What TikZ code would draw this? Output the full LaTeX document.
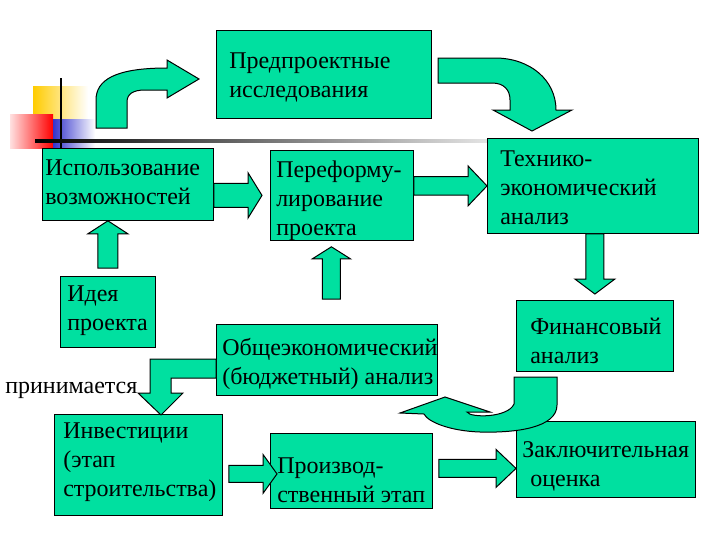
\documentclass[tikz,border=0pt]{standalone}
\usepackage{fontspec}
\setmainfont{Liberation Serif}
\usepackage{xcolor}
\usepackage{tikz}
\usetikzlibrary{calc}

\definecolor{sea}{RGB}{0,224,160}
\definecolor{corn}{RGB}{255,204,0}
\definecolor{ink}{RGB}{51,51,204}

\begin{document}
\begin{tikzpicture}[x=0.75pt,y=-0.75pt,
  stage/.style={draw=black, fill=sea, line width=0.6pt, anchor=north west, inner sep=0pt},
  stagetext/.style={anchor=west, inner sep=0pt, align=left, font=\fontsize{18}{21.75}\selectfont},
  arrowbody/.style={draw=black, fill=sea, line width=0.75pt, line join=miter},
  barrow/.style n args={3}{arrowbody,
    to path={let \p1=(\tikztostart), \p2=(\tikztotarget),
      \n1={atan2(\y2-\y1,\x2-\x1)}, \n2={veclen(\x2-\x1,\y2-\y1)-#3} in
      ($(\p1)+(\n1+90:#1)$) -- ($(\p1)+(\n1:\n2)+(\n1+90:#1)$) -- ($(\p1)+(\n1:\n2)+(\n1+90:#2)$)
      -- (\p2) -- ($(\p1)+(\n1:\n2)+(\n1-90:#2)$) -- ($(\p1)+(\n1:\n2)+(\n1-90:#1)$)
      -- ($(\p1)+(\n1-90:#1)$) -- cycle}}]
\useasboundingbox (0,0) rectangle (720,540);

%Shape: Corner Squares
\shade[left color=corn, middle color=corn!85, right color=white] (33,86) rectangle (88,119);
\shade[left color=red!12, right color=red] (10,114) rectangle (53,148);
\shade[left color=ink, middle color=ink!55, right color=white] (53,119) rectangle (95,148);
%Straight Lines
\draw[line width=1.8pt] (61,78) -- (61,150);
\shade[left color=black, right color=gray!20] (35,139.5) rectangle (490,142.5);

%Shape: Rectangle
\node[stage, minimum width=161.25pt, minimum height=66pt] (pre) at (216,30) {};
\node[stage, minimum width=128.25pt, minimum height=54pt] (use) at (42,148) {};
\node[stage, minimum width=107.25pt, minimum height=67.5pt] (reform) at (270,150) {};
\node[stage, minimum width=158.25pt, minimum height=71.25pt] (tech) at (487,138) {};
\node[stage, minimum width=71.25pt, minimum height=53.25pt] (idea) at (60,276) {};
\node[stage, minimum width=165.75pt, minimum height=53.25pt] (obsh) at (216,324) {};
\node[stage, minimum width=117.75pt, minimum height=53.25pt] (fin) at (516,300) {};
\node[stage, minimum width=126pt, minimum height=75.75pt] (inv) at (54,414) {};
\node[stage, minimum width=121.5pt, minimum height=56.25pt] (prod) at (270,433) {};
\node[stage, minimum width=134.25pt, minimum height=57pt] (final) at (516,421) {};

%Shape: Curved Right Arrow
\draw[arrowbody] (96,128) -- (96,100) .. controls (96,80) and (115,68) .. (167,68) -- (167,60) -- (199,79) -- (167,98) -- (167,90) -- (145,90) .. controls (133,90) and (127,94) .. (127,102) -- (127,128) -- cycle;
%Shape: Curved Down Arrow
\draw[arrowbody] (438,58) -- (495,58) .. controls (530,58) and (556,80) .. (556,110) -- (572,110) -- (532,131) -- (493,110) -- (510,110) -- (510,100) .. controls (510,90) and (504,83) .. (492,83) -- (438,83) -- cycle;
%Shape: U-Turn Arrow
\draw[arrowbody] (514,377) -- (557,377) -- (557,405) .. controls (557,428) and (515,433) .. (480,432) .. controls (450,431) and (428,422) .. (424,414) -- (400,413) -- (445,397) -- (490,412) -- (467,412) .. controls (470,418) and (508,418) .. (514,404) -- cycle;
%Shape: Bent Arrow
\draw[arrowbody] (216,359) -- (150,359) -- (150,393) -- (138,393) -- (161,415) -- (183,393) -- (171,393) -- (171,378) -- (216,378) -- cycle;

%Straight Arrows
\coordinate (c1) at (use.east |- reform.west);
\coordinate (c2) at ($(reform.west)+(-8,0)$);
\draw[barrow={9pt}{17pt}{10.5pt}] (c1) to (c2);
\coordinate (d1) at ($(idea.north)+(0,-8)$);
\coordinate (d2) at (idea.north |- use.south);
\draw[barrow={7.5pt}{15pt}{9.75pt}] (d1) to (d2);
\coordinate (e1) at (reform.east |- tech.west);
\draw[barrow={7pt}{15pt}{14.25pt}] (e1) to (tech.west);
\coordinate (f1) at ($(obsh.north)+(4.5,-25)$);
\coordinate (f2) at ($(f1 |- reform.south)+(0,6)$);
\draw[barrow={6.75pt}{14.25pt}{9pt}] (f1) to (f2);
\coordinate (g1) at (fin.north |- tech.south);
\coordinate (g2) at ($(fin.north)+(0,-6)$);
\draw[barrow={6.75pt}{15pt}{11.25pt}] (g1) to (g2);
\coordinate (j1) at ($(inv.east)+(6,9)$);
\coordinate (j2) at ($(j1 -| prod.west)+(7,0)$);
\draw[barrow={6.4pt}{14.6pt}{10.5pt}] (j1) to (j2);
\coordinate (k1) at ($(prod.east)+(6,-2.5)$);
\coordinate (k2) at (k1 -| final.west);
\draw[barrow={6.75pt}{14.25pt}{15pt}] (k1) to (k2);

% Text Node
\node[stagetext] (pre-t) at ($(pre.west)+(13,3)$) {Предпроектные\\исследования};
% Text Node
\node[stagetext] (use-t) at ($(use.west)+(3,-2.5)$) {Использование\\возможностей};
% Text Node
\node[stagetext] (reform-t) at ($(reform.west)+(6,5)$) {Переформу-\\лирование\\проекта};
% Text Node
\node[stagetext] (tech-t) at ($(tech.west)+(13,2)$) {Технико-\\экономический\\анализ};
% Text Node
\node[stagetext] (idea-t) at ($(idea.west)+(7,-1)$) {Идея\\проекта};
% Text Node
\node[stagetext] (obsh-t) at ($(obsh.west)+(6,4.5)$) {Общеэкономический\\(бюджетный) анализ};
% Text Node
\node[stagetext] (fin-t) at ($(fin.west)+(14,4.5)$) {Финансовый\\анализ};
% Text Node
\node[stagetext] (inv-t) at ($(inv.west)+(9,-2.5)$) {Инвестиции\\(этап\\строительства)};
% Text Node
\node[stagetext] (prod-t) at ($(prod.west)+(7,9)$) {Производ-\\ственный этап};
% Text Node
\node[stagetext] (final-t) at ($(final.west)+(6,7)$) {Заключительная\\\hspace*{6pt}оценка};
% Text Node
\node[stagetext] (accept) at (5,390) {принимается};
\end{tikzpicture}
\end{document}
